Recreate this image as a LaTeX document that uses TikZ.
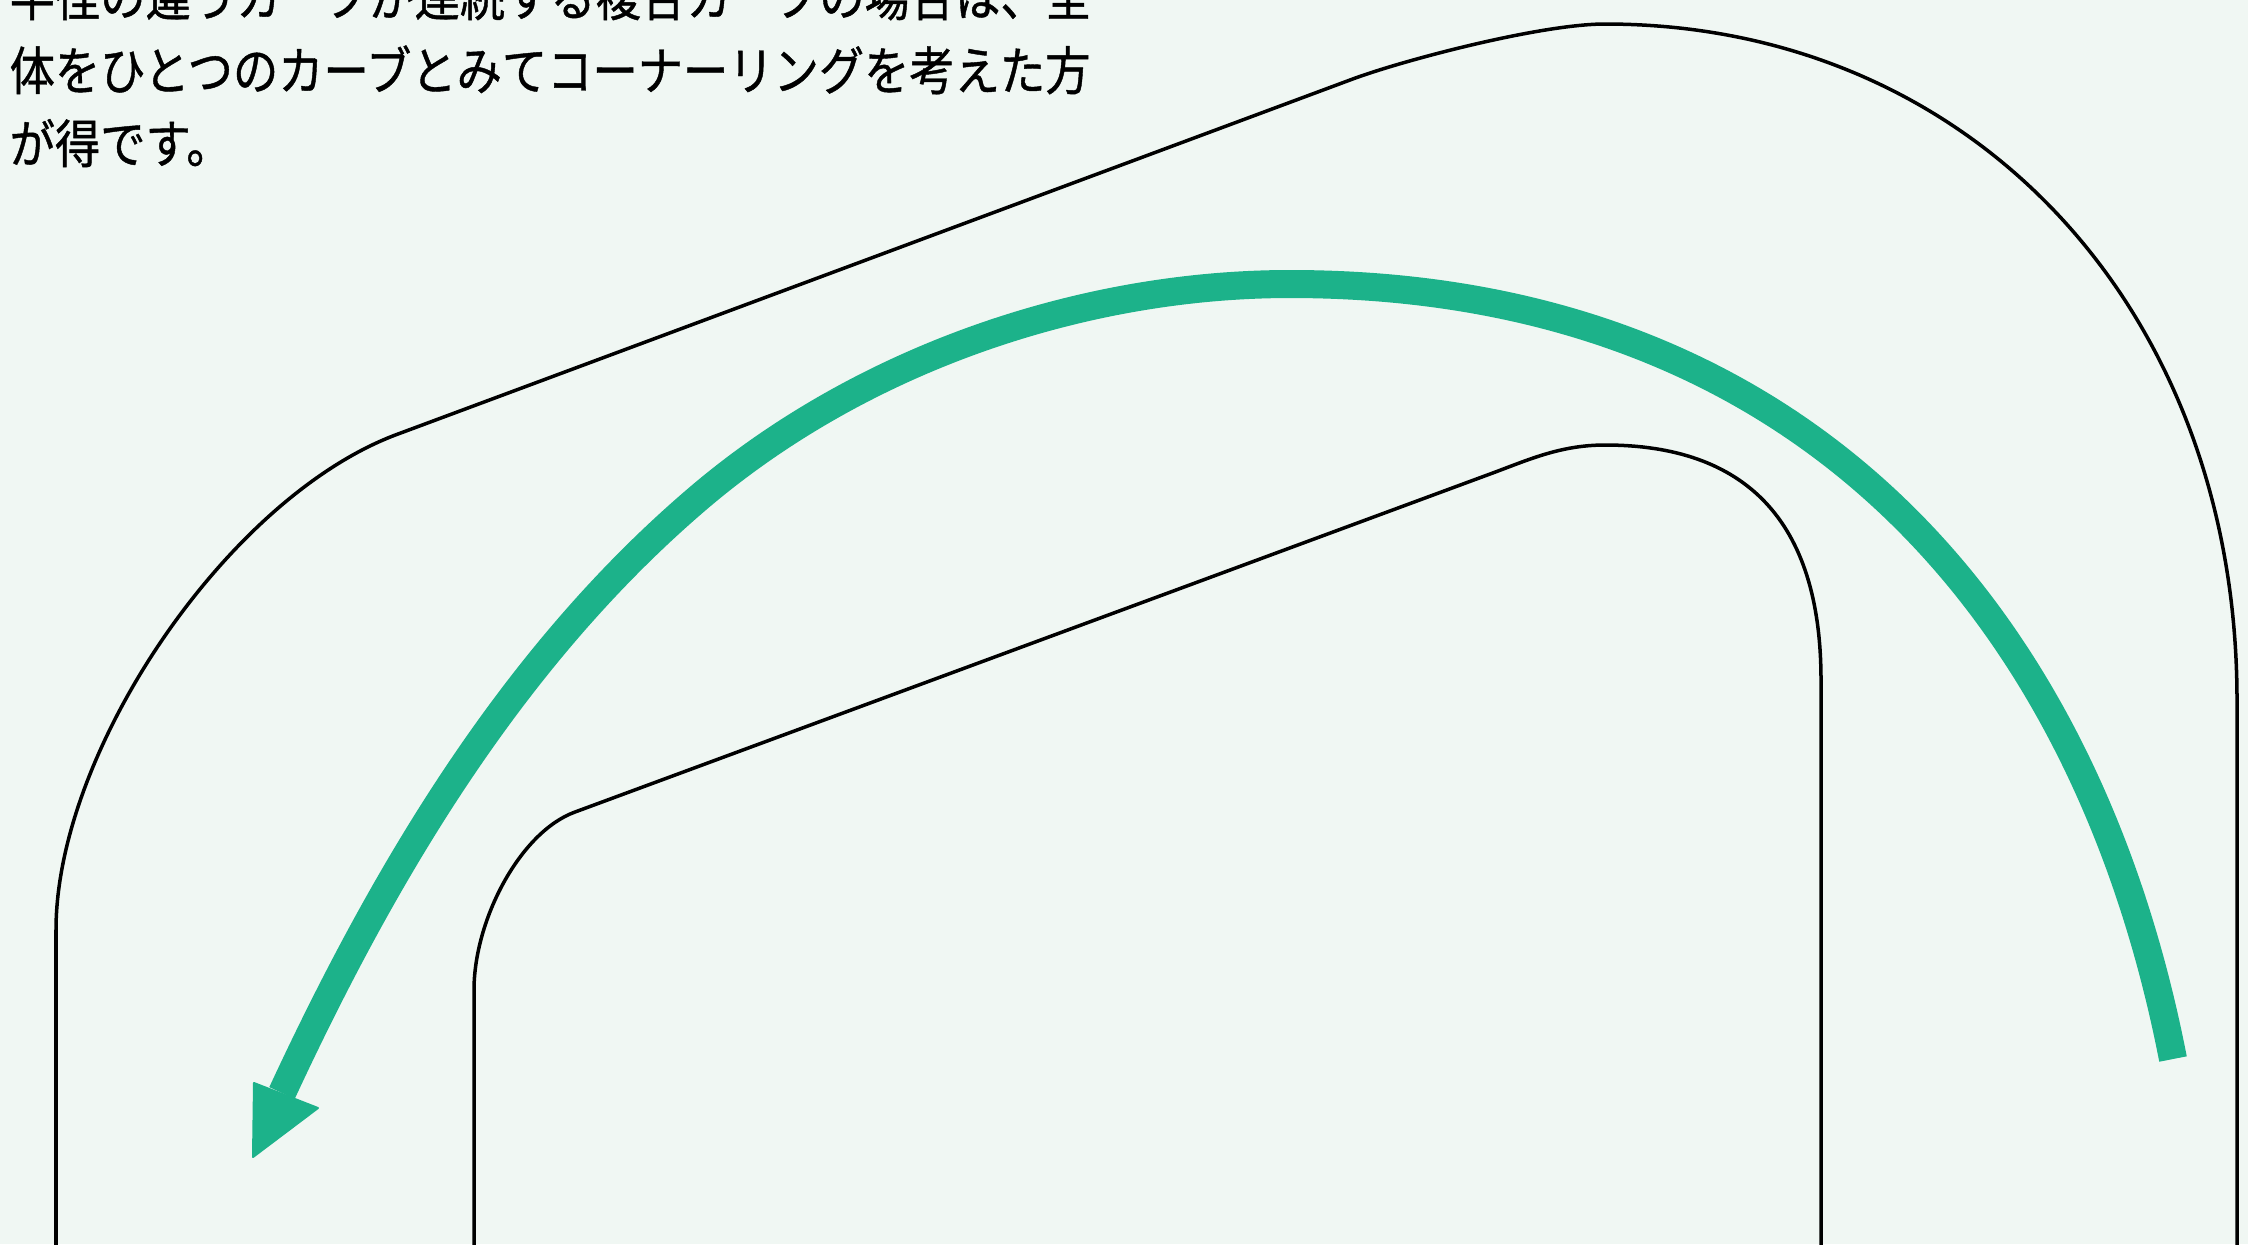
\documentclass[tikz,border=0pt]{standalone}
\usepackage{fontspec}
\newfontfamily\jpfont[FakeStretch=0.87,FakeBold=0.8]{Noto Sans CJK JP}
\definecolor{bgpaper}{RGB}{240,247,243}
\definecolor{arrowgreen}{RGB}{28,178,138}
\begin{document}
\begin{tikzpicture}[x=0.01cm,y=-0.01cm,
  track/.style={draw=black,line width=0.035cm,line join=round},
  flow/.style={draw=arrowgreen,line width=0.28cm,line cap=butt},
  headtri/.style={fill=arrowgreen,draw=arrowgreen,line width=0.02cm,line join=round},
  caption/.style={anchor=base west,inner sep=0pt,font=\jpfont\fontsize{14.8pt}{20pt}\selectfont}]
\fill[bgpaper] (0,0) rectangle (2248,1244);
\useasboundingbox (0,0) rectangle (2248,1244);
\clip (0,0) rectangle (2248,1244);
% caption
\node[caption] (t1) at (9,16) {半径の違うカーブが連続する複合カーブの場合は、全};
\node[caption] (t2) at (9,90) {体をひとつのカーブとみてコーナーリングを考えた方};
\node[caption] (t3) at (9,163) {が得です。};
% outer edge of the road
\draw[track] (56,1250) -- (56,930)
  .. controls (56,750) and (229,496) .. (398,434)
  -- (1350,80)
  .. controls (1400,61) and (1540,24) .. (1605,24)
  .. controls (1972,24) and (2237,309) .. (2237,700)
  -- (2237,1250);
% inner edge of the road
\draw[track] (474,1250) -- (474,990)
  .. controls (474,920) and (520,832) .. (575,812)
  -- (1490,474)
  .. controls (1528,460) and (1560,445) .. (1605,445)
  .. controls (1745,445) and (1821,520) .. (1821,680)
  -- (1821,1250);
% line through the compound curve
\coordinate (gstart) at (2173,1059);
\coordinate (gtop) at (1290,284);
\coordinate (gmid) at (702,495);
\coordinate (gend) at (282,1093);
\draw[flow] (gstart)
  .. controls (2088,623) and (1810,284) .. (gtop)
  .. controls (1085,284) and (866,357) .. (gmid)
  .. controls (515,653) and (386,869) .. (gend);
\fill[headtri] (254,1083) -- (318,1108) -- (253,1157) -- cycle;
\end{tikzpicture}
\end{document}
